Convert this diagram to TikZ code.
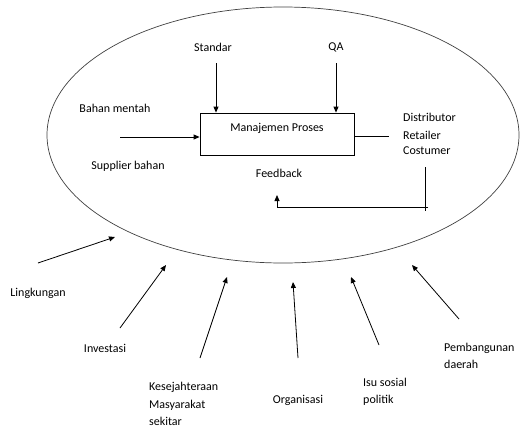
\documentclass[tikz,border=0pt]{standalone}
\usepackage{fontspec}
\setmainfont{Carlito}
\usetikzlibrary{arrows.meta}
\begin{document}
\begin{tikzpicture}[x=1pt,y=-1pt,
  font=\fontsize{12}{17.5}\selectfont,
  lbl/.style={inner sep=0pt, align=left, text=black},
  arr/.style={-{Triangle[length=6pt,width=5pt]}, line width=0.8pt},
  ln/.style={line width=0.8pt}]
\useasboundingbox (0,0) rectangle (520,429);
% environment ellipse
\draw[line width=0.7pt, black!75] (283,135) ellipse [x radius=236, y radius=128];
% process box
\node[draw, line width=0.8pt, minimum width=154pt, minimum height=42pt, inner sep=0pt] (box) at (277,134) {};
\node[lbl] (mp) at (277,128) {Manajemen Proses};
% controls
\node[lbl] (std) at (213,47) {Standar};
\node[lbl] (qa) at (336,47) {QA};
\coordinate (stdA) at (216,63);
\coordinate (qaA) at (336,63);
\draw[arr] (stdA) -- (stdA |- box.north);
\draw[arr] (qaA) -- (qaA |- box.north);
% input
\node[lbl] (bm) at (115,108) {Bahan mentah};
\node[lbl] (sb) at (128,166) {Supplier bahan};
\coordinate (inA) at (120,137);
\draw[arr] (inA) -- (inA -| box.west);
% output
\coordinate (outB) at (389,136);
\draw[ln] (outB -| box.east) -- (outB);
\node[lbl, anchor=west] (dis) at (403,117) {Distributor};
\node[lbl, anchor=west] (ret) at (403,135) {Retailer};
\node[lbl, anchor=west] (cos) at (403,151) {Costumer};
% feedback
\node[lbl] (fb) at (279,173) {Feedback};
\coordinate (fbA) at (425,167);
\coordinate (fbB) at (425,211);
\coordinate (fbC) at (428,207);
\coordinate (fbD) at (277,207);
\coordinate (fbE) at (277,195);
\draw[ln] (fbA) -- (fbB);
\draw[arr] (fbC) -- (fbD) -- (fbE);
% external influences
\node[lbl] (lin) at (38,293) {Lingkungan};
\coordinate (linT) at (38,263);
\coordinate (linH) at (115,237);
\draw[arr] (linT) -- (linH);
\node[lbl] (inv) at (105,348) {Investasi};
\coordinate (invT) at (120,328);
\coordinate (invH) at (166,265);
\draw[arr] (invT) -- (invH);
\node[lbl, anchor=west] (kes) at (149,404) {Kesejahteraan\\Masyarakat\\sekitar};
\coordinate (kesT) at (200,358);
\coordinate (kesH) at (227,277);
\draw[arr] (kesT) -- (kesH);
\node[lbl] (org) at (298,400) {Organisasi};
\coordinate (orgT) at (298,358);
\coordinate (orgH) at (293,282);
\draw[arr] (orgT) -- (orgH);
\node[lbl, anchor=west] (isu) at (363,392) {Isu sosial\\politik};
\coordinate (isuT) at (379,345);
\coordinate (isuH) at (351,277);
\draw[arr] (isuT) -- (isuH);
\node[lbl, anchor=west] (pem) at (444,356) {Pembangunan\\daerah};
\coordinate (pemT) at (459,319);
\coordinate (pemH) at (412,265);
\draw[arr] (pemT) -- (pemH);
\end{tikzpicture}
\end{document}
